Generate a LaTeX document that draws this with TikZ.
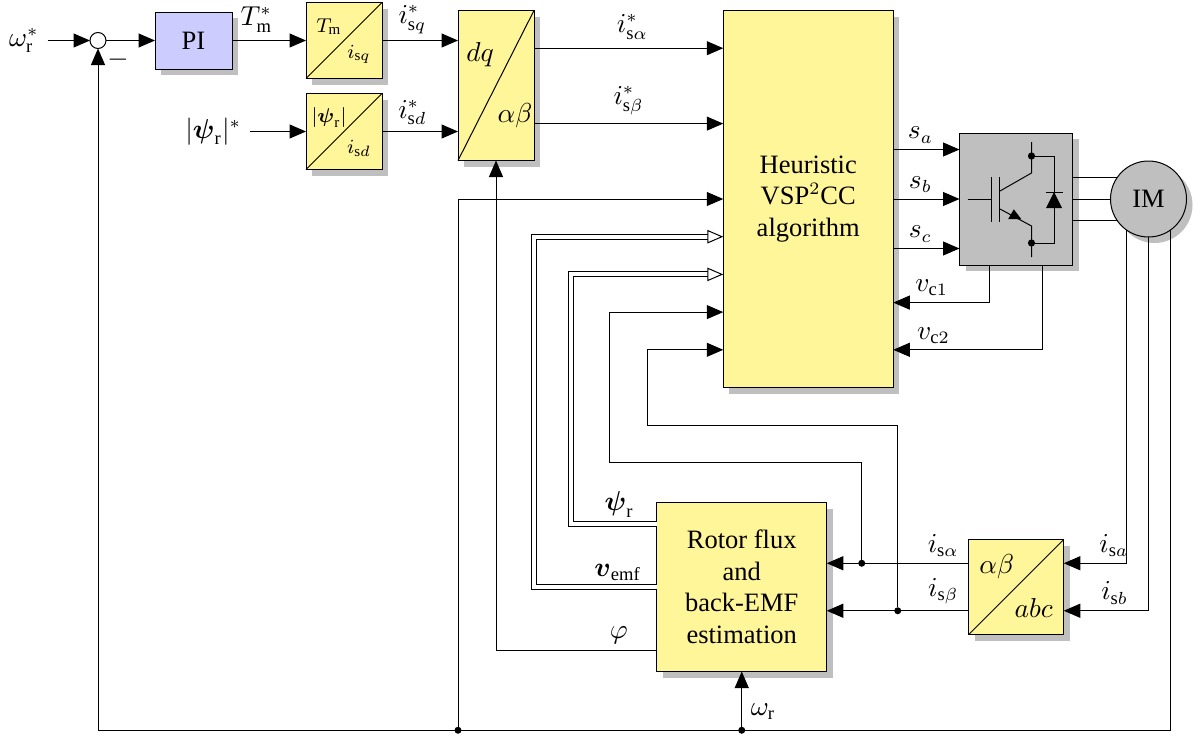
\documentclass[tikz,border=0pt]{standalone}
\usepackage{amsmath}
\usepackage{amssymb}
\usepackage{fontspec}
\setmainfont{Liberation Serif}
\usepackage{xcolor}
\usepackage{tikz}
\usetikzlibrary{arrows.meta, positioning, calc, shadows}
\definecolor{boxyellow}{rgb}{1.00, 0.96, 0.60}
\definecolor{boxviolet}{rgb}{0.80, 0.80, 1.00}
\definecolor{boxgray}{rgb}{0.75, 0.75, 0.75}

\begin{document}
\begin{tikzpicture}[
  node distance=0pt,
  every node/.style={font=\fontsize{10.6}{12.6}\selectfont},
  shade/.style={drop shadow={shadow xshift=2.4pt, shadow yshift=-2.4pt, fill=boxgray, opacity=1}},
  block/.style={
    rectangle, align=center, fill=boxyellow, draw=black, line width=0.4pt,
    inner sep=0pt, outer sep=0pt, shade
  },
  conv/.style={block, minimum width=30.4pt, minimum height=30.4pt},
  convtxt/.style={inner sep=0pt, font=\fontsize{8}{9.6}\selectfont},
  sumnode/.style={circle, draw=black, fill=white, line width=0.4pt, minimum size=6.4pt, inner sep=0pt, outer sep=0pt},
  dot/.style={circle, fill=black, minimum size=2.8pt, inner sep=0pt, outer sep=0pt},
  sig/.style={inner sep=2.4pt},
  arr/.style={-{Triangle[length=6.6pt, width=5.6pt]}, line width=0.4pt},
  dbl/.style={double, double distance=1.6pt, line width=0.4pt,
    -{Triangle[open, length=6.4pt, width=5.4pt, fill=white, line width=0.4pt]}},
  wire/.style={line width=0.4pt}
]
  \useasboundingbox (0,0) rectangle (479.2pt,-294.8pt);

  % Speed and flux references
  \node[sumnode] (sum) at (39.2pt,-16.2pt) {};
  \node[left=17pt of sum] (w_ref) {$\omega_{\mathrm{r}}^{*}$};
  \node[block, fill=boxviolet, minimum width=30.8pt, minimum height=22.8pt, right=19.6pt of sum] (pi) {PI};
  \node[conv, right=29.6pt of pi] (conv_tm) {};
  \node[conv, below=6pt of conv_tm] (conv_psi) {};
  \node[left=22.4pt of conv_psi] (psi_ref) {$|\boldsymbol{\psi}_{\mathrm{r}}|^{*}$};
  \node[block, minimum width=30.4pt, minimum height=60pt, right=30.4pt of conv_tm.north east, anchor=north west, yshift=-3.2pt] (dq) {};

  % Main algorithm, inverter, motor
  \node[block, minimum width=68pt, minimum height=150.8pt, right=75.7pt of dq.north east, anchor=north west] (main) {Heuristic\\VSP$^2$CC\\algorithm};
  \node[block, fill=boxgray, minimum width=45.2pt, minimum height=52.8pt, right=26.5pt of main] (inv) {};
  \node[circle, draw=black, fill=boxgray, line width=0.4pt, minimum size=30.4pt, inner sep=0pt, outer sep=0pt, shade, right=15.2pt of inv] (im) {IM};

  % Estimator and current transform
  \node[block, minimum width=68pt, minimum height=67.6pt, below=46pt of main, xshift=-26.6pt] (rotor) {Rotor flux\\and\\back-EMF\\estimation};
  \node[conv, minimum width=38pt, minimum height=38pt, right=56.8pt of rotor] (abc) {};

  % Diagonals and block texts
  \foreach \blk in {conv_tm, conv_psi, dq, abc}
    \draw[wire] (\blk.south west) -- (\blk.north east);
  \node[convtxt] (t_tm) at ([xshift=-6pt, yshift=5.6pt]conv_tm.center) {$T_{\mathrm{m}}$};
  \node[convtxt] (t_isq) at ([xshift=6pt, yshift=-5.6pt]conv_tm.center) {$i_{\mathrm{s}q}$};
  \node[convtxt] (t_psi) at ([xshift=-6pt, yshift=5.6pt]conv_psi.center) {$|\boldsymbol{\psi}_{\mathrm{r}}|$};
  \node[convtxt] (t_isd) at ([xshift=6pt, yshift=-6.8pt]conv_psi.center) {$i_{\mathrm{s}d}$};
  \node[inner sep=0pt] (t_dq) at ([xshift=-6.4pt, yshift=12.4pt]dq.center) {$dq$};
  \node[inner sep=0pt] (t_ab) at ([xshift=7.6pt, yshift=-12.2pt]dq.center) {$\alpha\beta$};
  \node[inner sep=0pt] (t_ab2) at ([xshift=-7.8pt, yshift=8pt]abc.center) {$\alpha\beta$};
  \node[inner sep=0pt] (t_abc) at ([xshift=7pt, yshift=-8.4pt]abc.center) {$abc$};

  % Ports
  \foreach \i in {1,...,9}
    \coordinate (mw\i) at ($(main.north west)!\i/10!(main.south west)$);
  \coordinate (me8) at (mw8 -| main.east);
  \coordinate (me1) at ($(me8)+(0,3.8pt)$);
  \coordinate (iw1) at ($(inv.north west)!0.125!(inv.south west)$);
  \coordinate (iw4) at (inv.west);
  \coordinate (iw7) at ($(inv.north west)!0.875!(inv.south west)$);
  \coordinate (ro1) at ($(rotor.north west)!0.125!(rotor.south west)$);
  \coordinate (ro2) at (rotor.west);
  \coordinate (ro3) at ($(rotor.north west)!0.875!(rotor.south west)$);
  \coordinate (ab1) at ($(abc.north west)!0.25!(abc.south west)$);
  \coordinate (ab2) at ($(abc.north west)!0.75!(abc.south west)$);
  \coordinate (ae1) at ($(abc.north east)!0.25!(abc.south east)$);
  \coordinate (ae2) at ($(abc.north east)!0.75!(abc.south east)$);
  \coordinate (fb_bot) at ($(rotor.south)+(0,-23.5pt)$);
  \coordinate (fb_main) at (dq.west |- fb_bot);
  \coordinate (psi_c) at ($(ro1)+(-34.2pt,0)$);
  \coordinate (emf_c) at ($(ro2)+(-49.2pt,0)$);
  \coordinate (turn_a) at ($(rotor.north west)+(-18.8pt,16pt)$);
  \coordinate (turn_b) at ($(rotor.north west)+(-3.6pt,30.8pt)$);
  \coordinate (vc1) at ($(inv.south west)+(12pt,0)$);
  \coordinate (vc2) at ($(inv.south west)+(33.2pt,0)$);

  % Junctions
  \node[dot] (dot_a) at ($(rotor.east |- ab1)+(14pt,0)$) {};
  \node[dot] (dot_b) at ($(rotor.east |- ab2)+(28.4pt,0)$) {};
  \node[dot] (dot_w) at (fb_bot) {};
  \node[dot] (dot_m) at (fb_main) {};

  % Forward path
  \draw[arr] (w_ref) -- (sum);
  \draw[arr] (sum) -- (pi);
  \draw[arr] (pi) -- node[sig, above, pos=0.33, yshift=0.8pt] (l_tm) {$T_{\mathrm{m}}^{*}$} (conv_tm);
  \draw[arr] (psi_ref) -- (conv_psi);
  \draw[arr] (conv_tm) -- node[sig, above, pos=0.4] (l_isq) {$i_{\mathrm{s}q}^{*}$} (conv_tm -| dq.west);
  \draw[arr] (conv_psi) -- node[sig, above, pos=0.4] (l_isd) {$i_{\mathrm{s}d}^{*}$} (conv_psi -| dq.west);
  \draw[arr] (dq.east |- mw1) -- node[sig, above, pos=0.52, yshift=0.8pt] (l_ia) {$i_{\mathrm{s}\alpha}^{*}$} (mw1);
  \draw[arr] (dq.east |- mw3) -- node[sig, above, pos=0.5, yshift=0.8pt] (l_ib) {$i_{\mathrm{s}\beta}^{*}$} (mw3);

  % Switching signals and capacitor voltages
  \draw[arr] (main.east |- iw1) -- node[sig, above, pos=0.41] (l_sa) {$s_a$} (iw1);
  \draw[arr] (main.east |- iw4) -- node[sig, above, pos=0.41] (l_sb) {$s_b$} (iw4);
  \draw[arr] (main.east |- iw7) -- node[sig, above, pos=0.41] (l_sc) {$s_c$} (iw7);
  \draw[arr] (vc1) |- node[sig, above, pos=0.8] (l_vc1) {$v_{\mathrm{c}1}$} (me1);
  \draw[arr] (vc2) |- node[sig, above, pos=0.865] (l_vc2) {$v_{\mathrm{c}2}$} (mw9 -| main.east);

  % Motor phases
  \draw[wire] (inv.east |- im.145) -- (im.145);
  \draw[wire] (inv.east) -- (im.west);
  \draw[wire] (inv.east |- im.215) -- (im.215);
  \draw[arr] (im.235) |- node[sig, above, pos=0.603] (l_isa) {$i_{\mathrm{s}a}$} (ae1);
  \draw[arr] (im.south) |- node[sig, above, pos=0.7] (l_isb) {$i_{\mathrm{s}b}$} (ae2);

  % Estimator connections
  \draw[arr] (ab1) -- node[sig, above, pos=0.18] (l_isa2) {$i_{\mathrm{s}\alpha}$} (ab1 -| rotor.east);
  \draw[arr] (ab2) -- node[sig, above, pos=0.18] (l_isb2) {$i_{\mathrm{s}\beta}$} (ab2 -| rotor.east);
  \draw[arr] (dot_a) |- (turn_a) |- (mw8);
  \draw[arr] (dot_b) |- (turn_b) |- (mw9);
  \draw[dbl] (ro1) -- node[sig, above, pos=0.44] (l_psi) {$\boldsymbol{\psi}_{\mathrm{r}}$} (psi_c) |- (mw7);
  \draw[dbl] (ro2) -- node[sig, above, pos=0.317] (l_emf) {$\boldsymbol{v}_{\mathrm{emf}}$} (emf_c) |- (mw6);
  \draw[arr] (ro3) -| node[sig, above, pos=0.118] (l_phi) {$\varphi$} (dq.south);

  % Speed feedback
  \draw[arr] (im.305) |- (fb_bot) -| (sum);
  \node[sig] (l_minus) at ($(sum)+(8pt,-7.6pt)$) {$-$};
  \draw[arr] (dot_w) -- node[sig, right, pos=0.27, xshift=1pt] (l_wr) {$\omega_{\mathrm{r}}$} (rotor.south);
  \draw[arr] (dot_m) |- (mw5);

  % Switch symbol
  \begin{scope}[shift={(inv.center)}, x=0.4pt, y=-0.4pt, line width=0.4pt]
    \draw (-48.5,0) -- (-24.5,0);
    \draw[line width=0.7pt] (-24.5,-22) -- (-24.5,23);
    \draw[line width=0.7pt] (-16.5,-22) -- (-16.5,23);
    \draw (15.5,-57) -- (15.5,-26) -- (-16,-8);
    \draw (-16,10) -- (15.5,27) -- (15.5,58);
    \fill (5.2,20) -- (-7.8,20) -- (-2.2,10.3) -- cycle;
    \fill (15.5,-43) circle (3.6);
    \fill (15.5,44) circle (3.6);
    \draw (15.5,-43) -- (38,-43) -- (38,44) -- (15.5,44);
    \fill (38,-7) -- (46,9) -- (30,9) -- cycle;
    \draw (29.5,-7) -- (46.5,-7);
  \end{scope}
\end{tikzpicture}
\end{document}
